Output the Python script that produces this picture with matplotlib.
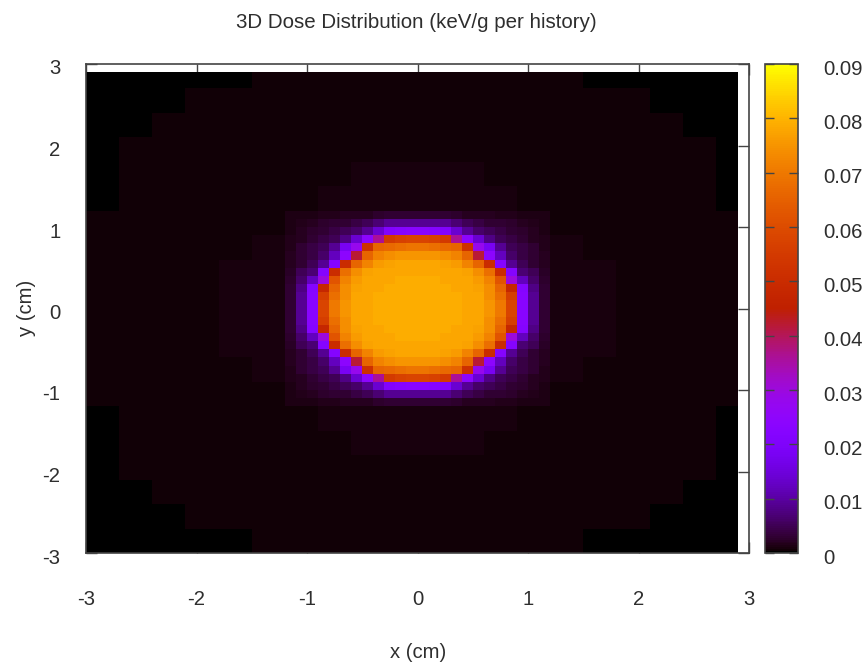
import numpy as np
import matplotlib
matplotlib.use('Agg')
import matplotlib.pyplot as plt
from matplotlib.colors import ListedColormap
from matplotlib.transforms import ScaledTranslation

plt.rcParams['font.family'] = ['Liberation Sans', 'DejaVu Sans']
plt.rcParams['axes.unicode_minus'] = False
TXT = '#2e2e2e'
LINE = '#444444'

title = '3D Dose Distribution (keV/g per history)'
xlabel = 'x (cm)'
ylabel = 'y (cm)'
ticks = [-3, -2, -1, 0, 1, 2, 3]
cb_ticks = [0, 0.01, 0.02, 0.03, 0.04, 0.05, 0.06, 0.07, 0.08, 0.09]
cb_labels = ['0', '0.01', '0.02', '0.03', '0.04', '0.05', '0.06', '0.07', '0.08', '0.09']

# background dose, one quadrant in 0.3 cm blocks, top left corner first (units of 0.001)
background = [
    [0.0, 0.0, 0.1, 0.2, 0.3, 0.4, 0.4, 0.5, 0.5, 0.5],
    [0.0, 0.1, 0.3, 0.4, 0.4, 0.5, 0.5, 0.5, 0.6, 0.6],
    [0.1, 0.3, 0.4, 0.4, 0.5, 0.5, 0.6, 0.6, 0.6, 0.6],
    [0.2, 0.4, 0.4, 0.5, 0.5, 0.6, 0.6, 0.7, 0.7, 0.7],
    [0.3, 0.4, 0.5, 0.5, 0.6, 0.6, 0.7, 0.7, 0.8, 0.8],
    [0.3, 0.5, 0.5, 0.6, 0.6, 0.7, 0.7, 0.8, 0.9, 0.9],
    [0.4, 0.5, 0.6, 0.6, 0.7, 0.7, 0.8, 0.9, 1.0, 1.1],
    [0.4, 0.5, 0.6, 0.7, 0.7, 0.8, 0.9, 1.1, 1.3, 1.4],
    [0.4, 0.5, 0.6, 0.7, 0.8, 0.9, 1.0, 1.3, 1.6, 1.8],
    [0.4, 0.5, 0.6, 0.7, 0.8, 0.9, 1.1, 1.4, 1.8, 2.0],
]

# one quadrant of the spot: top row is y=1.1..1.2, left column is x=-1.2..-1.1
# (units of 0.001, read from the colours)
spot = [
    [1.2, 1.3, 1.4, 1.5, 1.6, 1.8, 2, 2, 2.5, 3, 3, 3],
    [1.3, 1.5, 2, 2.5, 3, 3, 4, 5, 7, 9, 9, 9],
    [1.4, 2, 2.5, 3, 4, 5, 6, 9, 14, 21, 22, 23],
    [1.5, 2, 3, 4, 5, 8, 14, 24, 36, 55, 57, 58],
    [1.6, 3, 4, 5, 9, 18, 28, 52, 66, 67, 68, 69],
    [1.8, 3, 4, 6, 12, 24, 42, 66, 72, 74, 75, 75],
    [2, 3, 5, 9, 22, 50, 66, 72, 76, 77, 78, 78],
    [2.2, 5, 7, 22, 50, 68, 74, 77, 78, 78, 78, 78],
    [2.5, 6, 12, 30, 62, 72, 76, 78, 78, 78, 79, 79],
    [3, 8, 22, 48, 66, 74, 77, 78, 78, 79, 79, 79],
    [3, 9, 23, 56, 68, 74, 78, 78, 79, 79, 79, 79],
    [3, 9, 23, 58, 70, 75, 78, 78, 79, 79, 79, 79],
]


def mirror(q):
    # q is the top left quadrant, result has rows from the bottom up
    top = np.hstack([q, q[:, ::-1]])
    return np.vstack([top, top[::-1]])


# fill the 60x60 grid, rows from y=-3 upward
bg = mirror(np.array(background))
dose = np.repeat(np.repeat(bg, 3, axis=0), 3, axis=1)
dose[18:42, 18:42] = mirror(np.array(spot))
dose = dose / 1000

# gnuplot palette, red pushed up a little to the orange of the picture
pal = plt.get_cmap('gnuplot')(np.arange(256) / 255)
pal[:, 0] = np.clip(pal[:, 0] * 1.06, 0, 1)
cmap = ListedColormap(pal)

# pm3d leaves the last 0.1 cm empty on the right and at the top
edges = np.arange(-30, 30) / 10

fig = plt.figure(figsize=(8.68, 6.63), dpi=100)
W, H = 868, 663
ax = fig.add_axes([86 / W, 1 - 553 / H, (749 - 86) / W, (553 - 64) / H])
mesh = ax.pcolormesh(edges, edges, dose[:-1, :-1], cmap=cmap, vmin=0, vmax=0.09,
                     shading='flat', zorder=1)
ax.set_xlim(-3, 3)
ax.set_ylim(-3, 3)
ax.set_xticks(ticks)
ax.set_yticks(ticks)
ax.set_axisbelow(True)
ax.tick_params(axis='x', direction='in', length=8, width=1, color=LINE, top=True, bottom=True,
               labelsize=14.6, labelcolor=TXT, pad=26.5)
ax.tick_params(axis='y', direction='in', length=8, width=1, color=LINE, left=True, right=True,
               labelsize=14.6, labelcolor=TXT, pad=18.5)
for s in ax.spines.values():
    s.set_color(LINE)
    s.set_linewidth(1.2)

shift = ScaledTranslation(0, -3 / 100, fig.dpi_scale_trans)
for lab in ax.get_yticklabels():
    lab.set_transform(lab.get_transform() + shift)

cax = fig.add_axes([765 / W, 1 - 553 / H, (798 - 765) / W, (553 - 64) / H])
cb = fig.colorbar(mesh, cax=cax)
cb.set_ticks(cb_ticks)
cb.set_ticklabels(cb_labels)
cb.outline.set_edgecolor(LINE)
cb.outline.set_linewidth(1.2)
cax.tick_params(axis='y', direction='in', length=6.5, width=1, color=LINE, left=True, right=True,
                labelsize=14.6, labelcolor=TXT, pad=18.5)
for lab in cax.get_yticklabels():
    lab.set_transform(lab.get_transform() + shift)

fig.text(416 / W, 1 - 23 / H, title, fontsize=14.8, color=TXT, ha='center', va='center')
fig.text(418 / W, 1 - 653 / H, xlabel, fontsize=14.6, color=TXT, ha='center', va='center')
fig.text(27 / W, 1 - 308 / H, ylabel, fontsize=14.6, color=TXT, ha='center', va='center', rotation=90)

fig.savefig('out.png', dpi=100)
